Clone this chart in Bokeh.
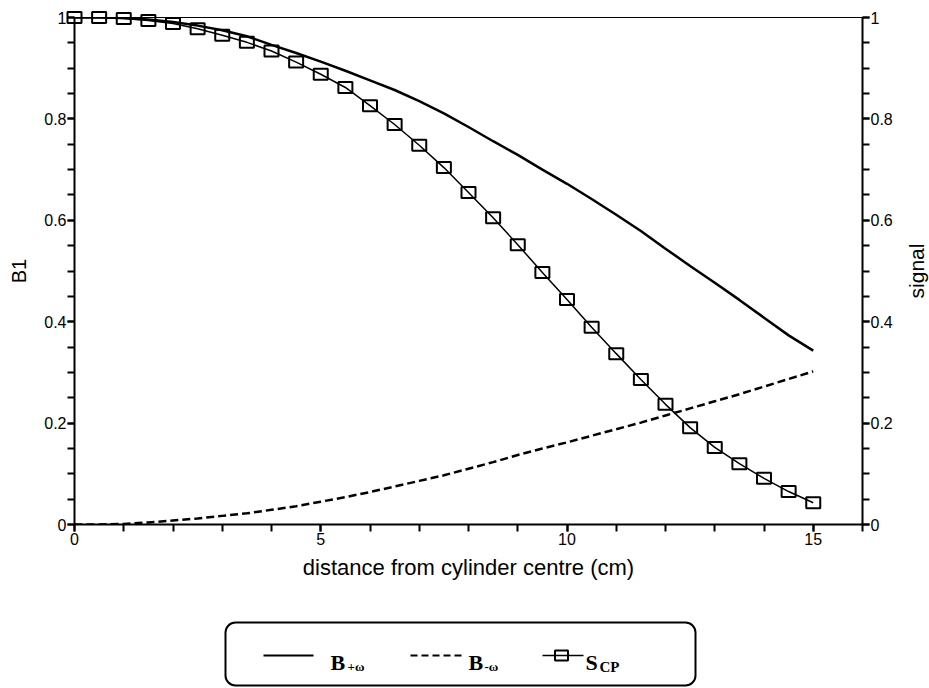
import math
from bokeh.plotting import figure
from bokeh.models import Range1d, LinearAxis, FixedTicker, BoxAnnotation
from bokeh.layouts import column
from bokeh.embed import file_html
from bokeh.resources import INLINE
from bokeh.core.properties import value

# ---------------- data ----------------
distance_cm = [0, 0.5, 1, 1.5, 2, 2.5, 3, 3.5, 4, 4.5, 5, 5.5, 6, 6.5, 7, 7.5,
               8, 8.5, 9, 9.5, 10, 10.5, 11, 11.5, 12, 12.5, 13, 13.5, 14, 14.5, 15]
b_plus = [1.000, 1.000, 0.999, 0.996, 0.991, 0.984, 0.975, 0.963, 0.946, 0.930,
          0.913, 0.895, 0.876, 0.857, 0.835, 0.811, 0.784, 0.756, 0.729, 0.700,
          0.672, 0.642, 0.611, 0.579, 0.544, 0.510, 0.477, 0.443, 0.408, 0.373, 0.343]
b_minus = [0.000, 0.000, 0.001, 0.004, 0.008, 0.012, 0.017, 0.022, 0.029, 0.036,
           0.045, 0.054, 0.064, 0.075, 0.086, 0.097, 0.110, 0.123, 0.137, 0.150,
           0.162, 0.175, 0.188, 0.201, 0.215, 0.229, 0.243, 0.257, 0.272, 0.287, 0.302]
s_cp = [1.000, 1.000, 0.998, 0.994, 0.988, 0.978, 0.965, 0.951, 0.934, 0.912,
        0.888, 0.862, 0.826, 0.789, 0.748, 0.704, 0.655, 0.605, 0.552, 0.497,
        0.444, 0.389, 0.337, 0.286, 0.237, 0.191, 0.152, 0.120, 0.091, 0.065, 0.043]

x_major_ticks = [0, 5, 10, 15]
x_minor_ticks = [0, 1, 2, 3, 4, 5, 6, 7, 8, 9, 10, 11, 12, 13, 14, 15, 16]
x_tick_labels = ["0", "5", "10", "15"]
y_major_ticks = [0, 0.2, 0.4, 0.6, 0.8, 1.0]
y_minor_ticks = [0, 0.05, 0.1, 0.15, 0.2, 0.25, 0.3, 0.35, 0.4, 0.45, 0.5,
                 0.55, 0.6, 0.65, 0.7, 0.75, 0.8, 0.85, 0.9, 0.95, 1.0]
y_tick_labels = ["0", "0.2", "0.4", "0.6", "0.8", "1"]

x_title = "distance from cylinder centre (cm)"
y_left_title = "B1"
y_right_title = "signal"

SANS = "Liberation Sans"
SERIF = "Liberation Serif"

# ---------------- main figure ----------------
X_MAX = 16
FRAME_L, FRAME_R, FRAME_T, FRAME_B = 74, 862, 17, 524
p = figure(width=929, height=600, x_range=Range1d(0, X_MAX), y_range=Range1d(0, 1),
           output_backend="svg", toolbar_location=None,
           min_border_left=FRAME_L, min_border_right=929 - FRAME_R,
           min_border_top=FRAME_T, min_border_bottom=600 - FRAME_B)
p.extra_y_ranges = {"signal": Range1d(0, 1)}
p.xgrid.grid_line_color = None
p.ygrid.grid_line_color = None
p.outline_line_color = "black"
p.outline_line_width = 1
p.background_fill_color = "white"
p.border_fill_color = "white"


def style_axis(ax, title_size):
    ax.axis_line_width = 2
    ax.axis_line_color = "black"
    ax.major_tick_line_width = 2
    ax.minor_tick_line_width = 2
    ax.major_tick_line_color = "black"
    ax.minor_tick_line_color = "black"
    ax.major_tick_in = 0
    ax.major_tick_out = 7
    ax.minor_tick_in = 0
    ax.minor_tick_out = 7
    ax.major_label_text_font = SANS
    ax.major_label_text_font_size = "16px"
    ax.major_label_text_color = "black"
    ax.major_label_standoff = 1
    ax.axis_label_text_font = SANS
    ax.axis_label_text_font_style = "normal"
    ax.axis_label_text_font_size = title_size
    ax.axis_label_text_color = "black"


xa = p.xaxis[0]
xa.ticker = FixedTicker(ticks=x_major_ticks, minor_ticks=x_minor_ticks)
xa.major_label_overrides = dict(zip(x_major_ticks, x_tick_labels))
xa.axis_label = x_title
style_axis(xa, "22px")
xa.axis_label_standoff = 7

ya = p.yaxis[0]
ya.ticker = FixedTicker(ticks=y_major_ticks, minor_ticks=y_minor_ticks)
ya.major_label_overrides = dict(zip(y_major_ticks, y_tick_labels))
ya.axis_label = y_left_title
style_axis(ya, "20px")
ya.axis_label_standoff = 11

yr = LinearAxis(y_range_name="signal",
                ticker=FixedTicker(ticks=y_major_ticks, minor_ticks=y_minor_ticks),
                major_label_overrides=dict(zip(y_major_ticks, y_tick_labels)))
style_axis(yr, "21px")
p.add_layout(yr, "right")

# right-hand axis title (reads bottom-to-top), placed in the right border, drawn unclipped
px_per_unit = (FRAME_R - FRAME_L) / X_MAX
title_x = X_MAX + (916 - FRAME_R) / px_per_unit
p.text(x=[title_x], y=[0.5], text=[y_right_title], angle=math.pi / 2,
       text_align="center", text_baseline="middle", text_font=value(SANS),
       text_font_size="21px", text_color="black", level="overlay")

p.line(distance_cm, b_plus, line_color="black", line_width=2.5)
p.line(distance_cm, b_minus, line_color="black", line_width=2.5, line_dash="8 4")
p.line(distance_cm, s_cp, line_color="black", line_width=1.5, y_range_name="signal")
p.rect(distance_cm, s_cp, width=14, height=11, width_units="screen", height_units="screen",
       fill_alpha=0, line_color="black", line_width=2, y_range_name="signal", level="overlay")

# ---------------- legend (separate panel below, frame aligned with main frame) ----------------
LH = 88
lg = figure(width=929, height=LH, x_range=Range1d(FRAME_L, FRAME_R), y_range=Range1d(0, LH),
            output_backend="svg", toolbar_location=None,
            x_axis_type=None, y_axis_type=None,
            min_border_left=0, min_border_right=0, min_border_top=0, min_border_bottom=0)
lg.outline_line_color = None
lg.background_fill_color = "white"
lg.border_fill_color = "white"

box_kw = dict(left=225, right=695, bottom=3, top=66, fill_alpha=0,
              line_color="black", line_width=2, line_alpha=1)
try:
    legend_box = BoxAnnotation(border_radius=10, **box_kw)
except Exception:
    legend_box = BoxAnnotation(**box_kw)
lg.add_layout(legend_box)

sample_y = 33
lg.line([263, 313], [sample_y, sample_y], line_color="black", line_width=2)
lg.line([410, 463], [sample_y, sample_y], line_color="black", line_width=2, line_dash="7 4")
lg.line([542, 583], [sample_y, sample_y], line_color="black", line_width=1.5)
lg.rect([561], [sample_y], width=13, height=10, width_units="screen", height_units="screen",
        fill_alpha=0, line_color="black", line_width=2)

lg.text(x=[330, 468, 585], y=[26, 26, 26], text=["B", "B", "S"],
        text_font=value(SERIF), text_font_style="bold", text_font_size="22px",
        text_baseline="alphabetic", text_align="left", text_color="black")
lg.text(x=[347, 484], y=[22, 22], text=["+\u03c9", "-\u03c9"],
        text_font=value(SERIF), text_font_style="bold", text_font_size="13px",
        text_baseline="alphabetic", text_align="left", text_color="black")
lg.text(x=[599], y=[22], text=["CP"],
        text_font=value(SERIF), text_font_style="bold", text_font_size="15px",
        text_baseline="alphabetic", text_align="left", text_color="black")

layout = column(p, lg, spacing=0)
open("out.html", "w").write(file_html(layout, INLINE))
